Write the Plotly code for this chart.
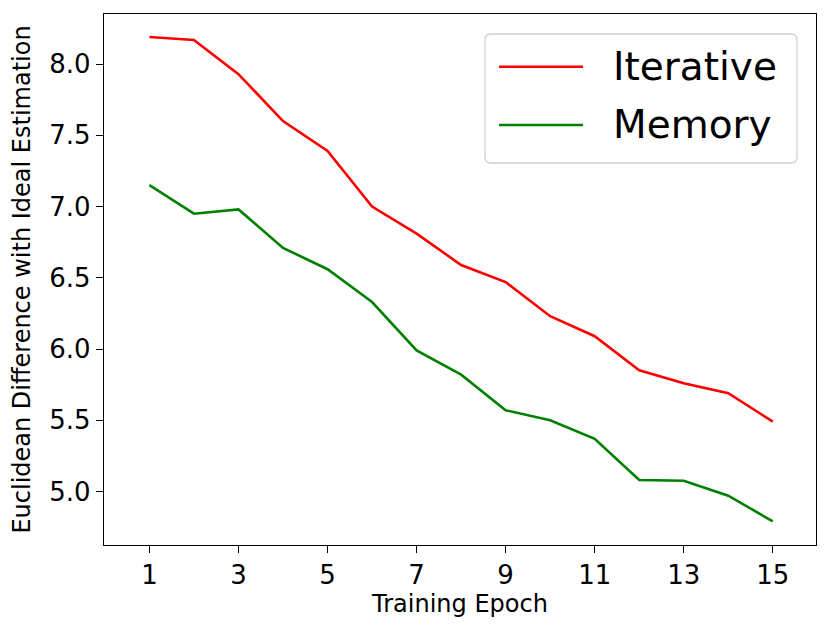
import plotly.graph_objects as go

epochs = list(range(1, 16))
iterative = [8.19, 8.17, 7.93, 7.60, 7.39, 7.00, 6.81, 6.59, 6.47, 6.23, 6.09, 5.85, 5.76, 5.69, 5.49]
memory = [7.15, 6.95, 6.98, 6.71, 6.56, 6.33, 5.99, 5.82, 5.57, 5.50, 5.37, 5.08, 5.075, 4.97, 4.79]
series_names = ["Iterative", "Memory"]
series_colors = ["#ff0000", "#008000"]
x_tickvals = [1, 3, 5, 7, 9, 11, 13, 15]
y_tickvals = [5.0, 5.5, 6.0, 6.5, 7.0, 7.5, 8.0]

FONT = "DejaVu Sans"
OFF = 8  # page body margin
W, H = 831 - OFF, 632 - OFF
L, R, T, B = 104 - OFF, 15, 14 - OFF, 87

fig = go.Figure()
for name, vals, col in zip(series_names, [iterative, memory], series_colors):
    fig.add_trace(go.Scatter(x=epochs, y=vals, mode="lines", name=name,
                             line=dict(color=col, width=2.6), showlegend=False))

axis_common = dict(showline=True, mirror=True, linecolor="black", linewidth=1.3,
                   ticks="outside", ticklen=7, tickwidth=1.3, tickcolor="black",
                   showgrid=False, zeroline=False, automargin=False,
                   tickfont=dict(family=FONT, size=26, color="black"))
fig.update_xaxes(range=[-0.02, 15.97], tickvals=x_tickvals,
                 title=dict(text="Training Epoch", font=dict(family=FONT, size=24, color="black"), standoff=5),
                 **axis_common)
fig.update_yaxes(range=[4.624, 8.352], tickvals=y_tickvals, tickformat=".1f",
                 title=dict(text="Euclidean Difference with Ideal Estimation",
                            font=dict(family=FONT, size=24, color="black"), standoff=11),
                 **axis_common)

# Legend box drawn in pixel-based paper coordinates (reference pixel coords)
pw, ph = W - L - R, H - T - B
def px(x): return (x - OFF - L) / pw
def py(y): return 1 - (y - OFF - T) / ph

x0, x1, y0, y1, r = 485, 797, 34, 163, 6
path = (f"M {px(x0+r)},{py(y0)} L {px(x1-r)},{py(y0)} Q {px(x1)},{py(y0)} {px(x1)},{py(y0+r)} "
        f"L {px(x1)},{py(y1-r)} Q {px(x1)},{py(y1)} {px(x1-r)},{py(y1)} "
        f"L {px(x0+r)},{py(y1)} Q {px(x0)},{py(y1)} {px(x0)},{py(y1-r)} "
        f"L {px(x0)},{py(y0+r)} Q {px(x0)},{py(y0)} {px(x0+r)},{py(y0)} Z")
fig.add_shape(type="path", path=path, xref="paper", yref="paper",
              line=dict(color="#d0d0d0", width=1.3), fillcolor="rgba(255,255,255,0.8)")
rows = [66.7, 125]
for yrow, name, col in zip(rows, series_names, series_colors):
    fig.add_shape(type="line", xref="paper", yref="paper",
                  x0=px(499), x1=px(583), y0=py(yrow), y1=py(yrow),
                  line=dict(color=col, width=2.6))
    fig.add_annotation(xref="paper", yref="paper", x=px(611), y=py(yrow),
                       text=name, showarrow=False, xanchor="left", yanchor="middle",
                       font=dict(family=FONT, size=39, color="black"))

fig.update_layout(width=W, height=H, margin=dict(l=L, r=R, t=T, b=B),
                  plot_bgcolor="white", paper_bgcolor="white",
                  font=dict(family=FONT, color="black"), showlegend=False)
fig.write_html("out.html")
